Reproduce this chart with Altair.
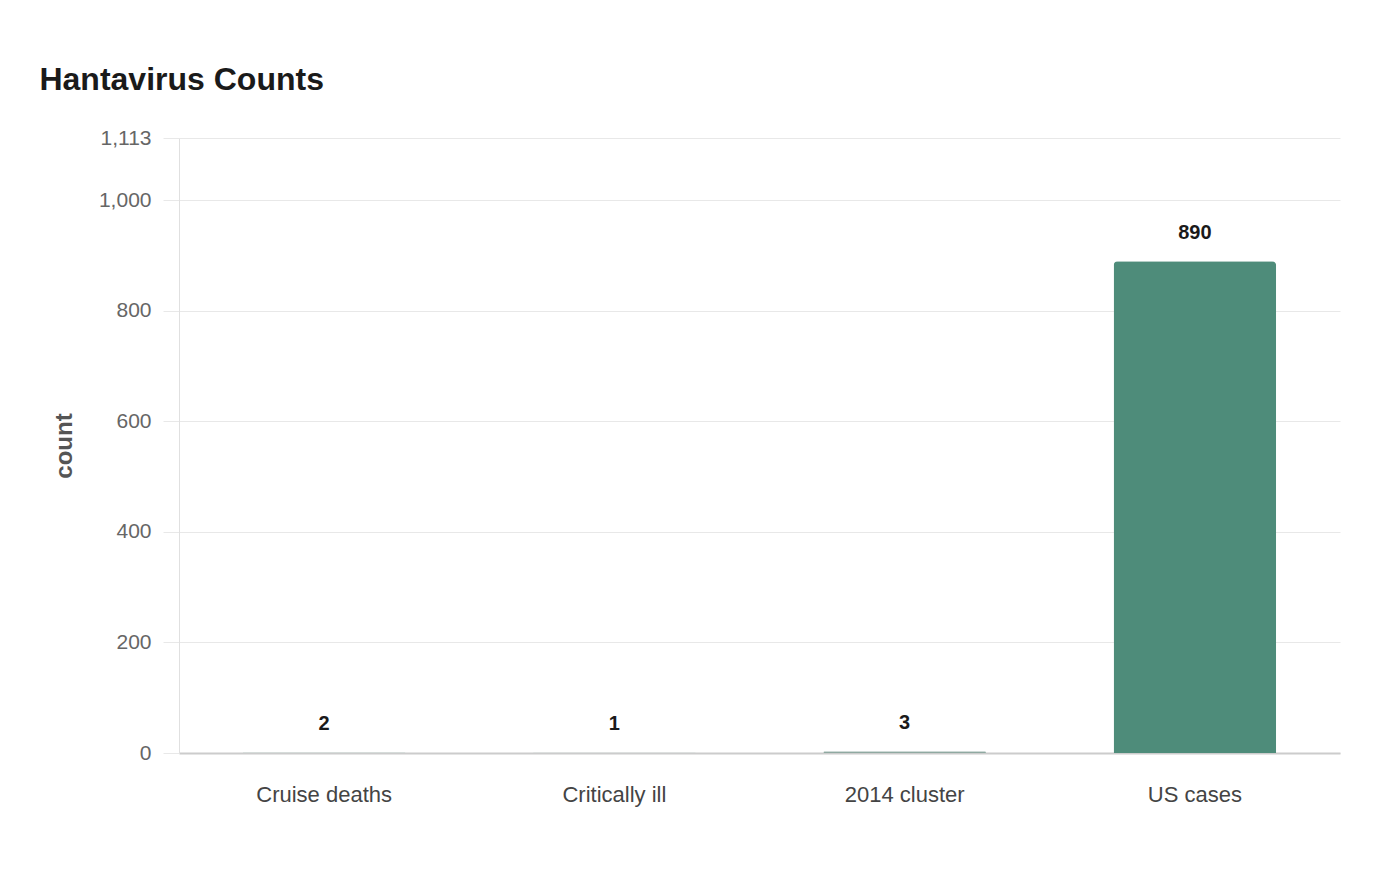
import pandas as pd
import altair as alt

# values
categories = ["Cruise deaths", "Critically ill", "2014 cluster", "US cases"]
counts = [2, 1, 3, 890]
bar_colors = ["#d6dcda", "#a9bdb6", "#8fa9a1", "#4e8c7a"]

dat = pd.DataFrame({"label": categories, "count": counts, "shade": bar_colors})

font = "Liberation Sans"

base = alt.Chart(dat).encode(
    x=alt.X("label:N", sort=categories, title=None,
            scale=alt.Scale(paddingInner=0.44, paddingOuter=0.22),
            axis=alt.Axis(labelAngle=0, labelFontSize=22, labelColor="#444444",
                          labelFont=font, labelPadding=31, ticks=False,
                          domainColor="#cccccc", domainWidth=2)),
    y=alt.Y("count:Q", title="count",
            scale=alt.Scale(domain=[0, 1113], nice=False),
            axis=alt.Axis(values=[0, 200, 400, 600, 800, 1000, 1113], format=",d",
                          labelFontSize=21, labelColor="#666666", labelFont=font,
                          labelPadding=12, tickSize=16, tickColor="#e8e8e8",
                          gridColor="#e8e8e8", domainColor="#e0e0e0",
                          titleFontSize=24, titleFont=font, titleColor="#555555",
                          titleFontWeight="bold", titlePadding=22)),
)

bars = base.mark_bar(cornerRadiusTopLeft=4, cornerRadiusTopRight=4).encode(
    color=alt.Color("shade:N", scale=None)
)

text = base.mark_text(dy=-28, baseline="middle", fontSize=20, fontWeight="bold",
                      font=font, color="#1a1a1a").encode(text="count:Q")

chart = (
    (bars + text)
    .properties(
        width=1161, height=615,
        title=alt.TitleParams("Hantavirus Counts", anchor="start", fontSize=32,
                              font=font, fontWeight="bold", color="#1a1a1a",
                              dx=-13, offset=30),
        padding={"left": 171, "top": 130, "right": 52, "bottom": 110},
        autosize=alt.AutoSizeParams(type="none"),
    )
    .configure_view(stroke=None)
)

chart.save("out.html", embed_options={"renderer": "svg", "actions": False})
